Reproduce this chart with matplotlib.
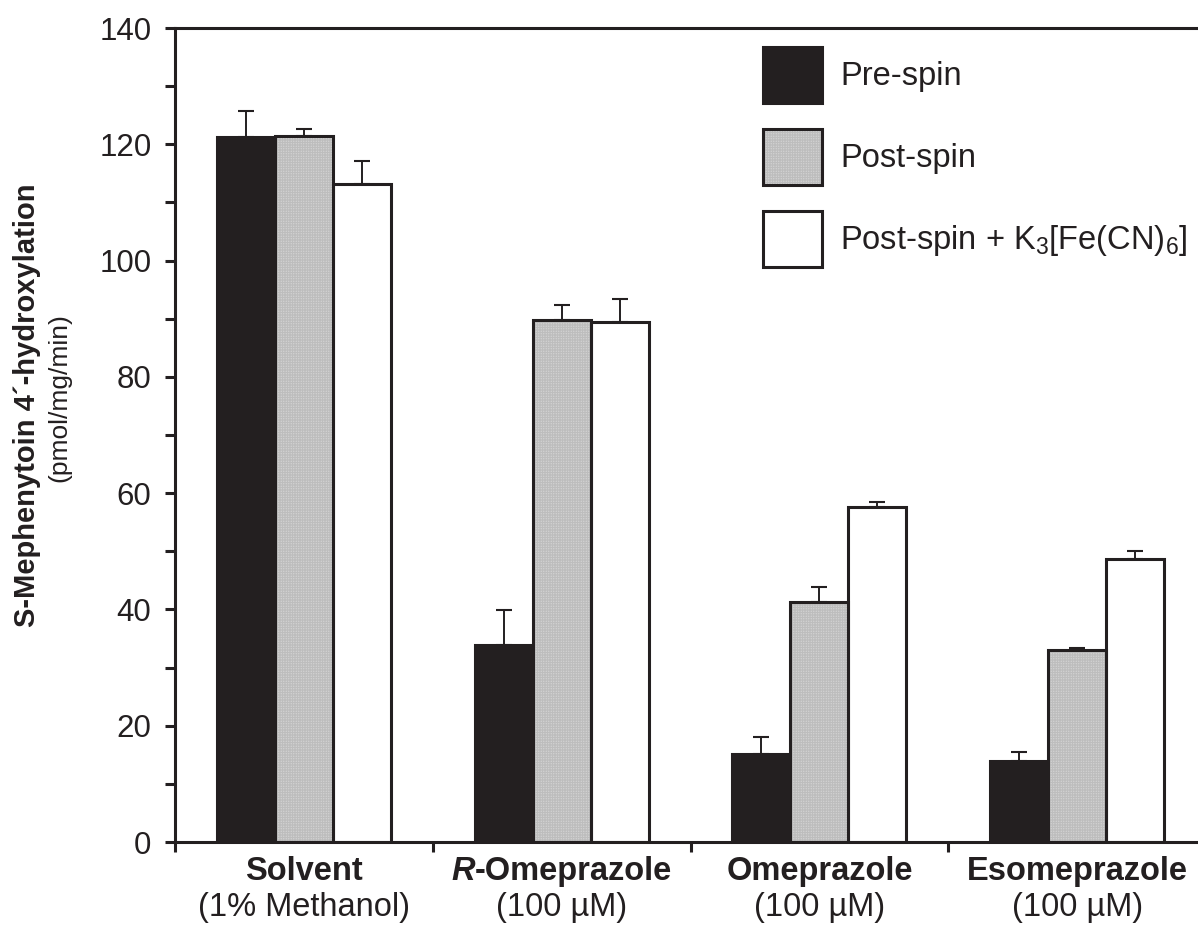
import matplotlib
matplotlib.use("Agg")
import matplotlib.pyplot as plt
from matplotlib.patches import Patch
from matplotlib.offsetbox import TextArea, HPacker, VPacker, AnnotationBbox
import numpy as np

plt.rcParams['font.family'] = ['Liberation Sans', 'DejaVu Sans']
plt.rcParams['mathtext.fontset'] = 'custom'
plt.rcParams['mathtext.rm'] = 'Liberation Sans'
plt.rcParams['mathtext.it'] = 'Liberation Sans:italic'
plt.rcParams['hatch.linewidth'] = 0.6

# group labels: italic prefix, bold name, concentration line
group_prefix = ['', 'R', '', '']
group_names = ['Solvent', '-Omeprazole', 'Omeprazole', 'Esomeprazole']
group_subs = ['(1% Methanol)', '(100 µM)', '(100 µM)', '(100 µM)']

series = ['Pre-spin', 'Post-spin', r'Post-spin + K$_3$[Fe(CN)$_6$]']

# S-mephenytoin 4'-hydroxylation (pmol/mg/min), mean and upper SD
pre_spin = [121.3, 33.9, 15.2, 14.0]
pre_spin_err = [4.5, 6.0, 2.9, 1.5]
post_spin = [121.4, 89.8, 41.2, 33.0]
post_spin_err = [1.2, 2.6, 2.6, 0.4]
post_spin_fe = [113.1, 89.4, 57.7, 48.7]
post_spin_fe_err = [4.1, 4.0, 0.7, 1.4]

ink = '#231f20'
grey = '#e2e2e2'
grid_grey = '#bdbdbd'
stipple = '+' * 10

fig = plt.figure(figsize=(11.98, 9.27), dpi=100)
ax = fig.add_axes([175 / 1198, 85 / 927, 1031 / 1198, 814 / 927])

x = np.arange(len(group_names))
w = 0.225
lw = 2.2

vals = [pre_spin, post_spin, post_spin_fe]
errs = [pre_spin_err, post_spin_err, post_spin_fe_err]
for k, (v, e) in enumerate(zip(vals, errs)):
    xs = x + (k - 1) * w
    ax.errorbar(xs, v, yerr=[np.zeros(len(e)), e], fmt='none', ecolor=ink,
                elinewidth=1.4, capsize=5.5, capthick=1.5, zorder=1)
    if k == 0:
        ax.bar(xs, v, w, color=ink, edgecolor=ink, linewidth=lw, zorder=2)
    elif k == 1:
        # stippled fill first, black outline on top
        ax.bar(xs, v, w, color=grey, edgecolor=grid_grey, hatch=stipple,
               linewidth=0, zorder=2)
        ax.bar(xs, v, w, fill=False, edgecolor=ink, linewidth=lw, zorder=3)
    else:
        ax.bar(xs, v, w, color='white', edgecolor=ink, linewidth=lw, zorder=2)

ax.set_xlim(-0.5, 3.5)
ax.set_ylim(0, 140)
ax.set_yticks(np.arange(0, 141, 20))
ax.set_yticks(np.arange(10, 140, 20), minor=True)
ax.set_xticks(np.arange(-0.5, 3.6, 1))
ax.set_xticklabels([])
for s in ax.spines.values():
    s.set_linewidth(lw)
    s.set_color(ink)
ax.tick_params(axis='y', which='both', direction='out', length=7, width=lw,
               color=ink, labelsize=22.5, labelcolor=ink, pad=10)
ax.tick_params(axis='x', direction='out', length=7, width=lw, color=ink)
ax.tick_params(right=False, top=False)

# two-line group labels under each cluster
for i in range(len(group_names)):
    parts = []
    if group_prefix[i]:
        parts.append(TextArea(group_prefix[i], textprops=dict(
            fontsize=23.5, fontweight='bold', fontstyle='italic', color=ink)))
    parts.append(TextArea(group_names[i], textprops=dict(
        fontsize=23.5, fontweight='bold', color=ink)))
    line1 = HPacker(children=parts, align='baseline', pad=0, sep=0)
    line2 = TextArea(group_subs[i], textprops=dict(fontsize=23.5, color=ink))
    box = VPacker(children=[line1, line2], align='center', pad=0, sep=4)
    ab = AnnotationBbox(box, (x[i], 0), xycoords=ax.get_xaxis_transform(),
                        xybox=(0, -10), boxcoords='offset points',
                        box_alignment=(0.5, 1), frameon=False)
    ax.add_artist(ab)

fig.text(27 / 1198, 1 - 405 / 927, 'S-Mephenytoin 4´-hydroxylation',
         rotation=90, ha='center', va='center', fontsize=21,
         fontweight='bold', color=ink)
fig.text(59 / 1198, 1 - 398 / 927, '(pmol/mg/min)', rotation=90,
         ha='center', va='center', fontsize=19, color=ink)

handles = [
    Patch(facecolor=ink, edgecolor=ink, linewidth=lw),
    (Patch(facecolor=grey, edgecolor=grid_grey, hatch=stipple, linewidth=0),
     Patch(fill=False, edgecolor=ink, linewidth=lw)),
    Patch(facecolor='white', edgecolor=ink, linewidth=lw),
]
fs = 23.5
em = fs * 100 / 72
fig.legend(handles, series, loc='upper left',
           bbox_to_anchor=(763 / 1198, 1 - 47 / 927), frameon=False,
           fontsize=fs, labelcolor=ink, borderpad=0, borderaxespad=0,
           handlelength=59 / em, handleheight=2.28,
           handletextpad=18 / em, labelspacing=(81.5 - 56) / em)

fig.savefig('out.png', dpi=100)
